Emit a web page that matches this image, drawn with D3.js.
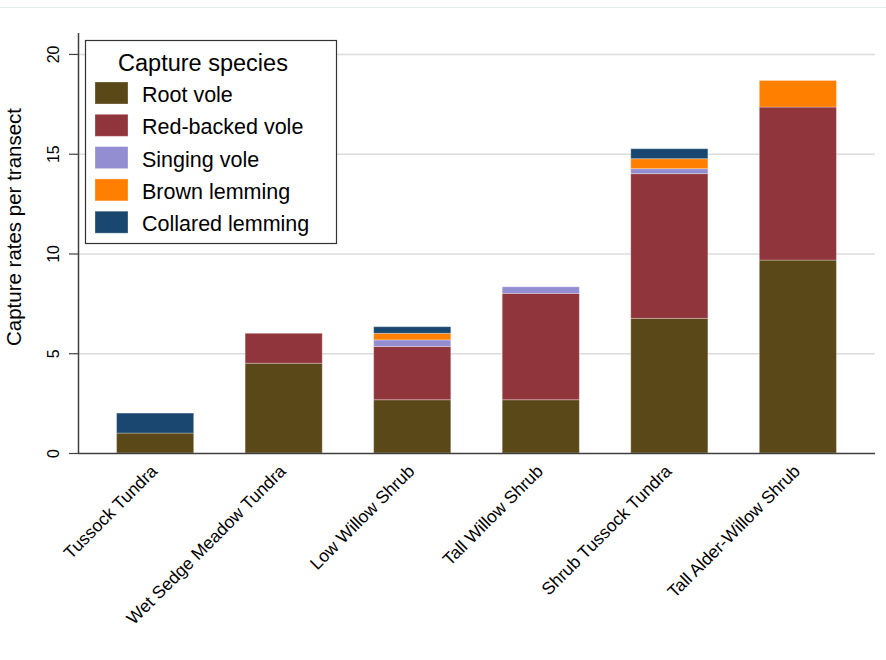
<!DOCTYPE html>
<html>
  <head>
    <meta charset="utf-8">
    <title>Capture rates per transect</title>
    <style>
      body { margin: 0; background: #fff; }
      text { font-family: "Liberation Sans", Arial, sans-serif; fill: #000; }
    </style>
  </head>
  <body>
    <svg width="886" height="660"></svg>

    <script src="https://cdnjs.cloudflare.com/ajax/libs/d3/7.8.5/d3.min.js"></script>
    <script>

      var habitats = ["Tussock Tundra", "Wet Sedge Meadow Tundra", "Low Willow Shrub",
        "Tall Willow Shrub", "Shrub Tussock Tundra", "Tall Alder-Willow Shrub"];

      var species = ["Root vole", "Red-backed vole", "Singing vole", "Brown lemming", "Collared lemming"];
      var speciesColors = ["#5b4819", "#90353b", "#938dd2", "#ff7f00", "#1a476f"];

      var rootVole = [1.0, 4.5, 2.67, 2.67, 6.75, 9.67];
      var redBackedVole = [0, 1.5, 2.67, 5.33, 7.25, 7.67];
      var singingVole = [0, 0, 0.33, 0.33, 0.25, 0];
      var brownLemming = [0, 0, 0.33, 0, 0.5, 1.33];
      var collaredLemming = [1.0, 0, 0.33, 0, 0.5, 0];

      var yTicks = [0, 5, 10, 15, 20];

      // table for d3.stack
      var values = [rootVole, redBackedVole, singingVole, brownLemming, collaredLemming];
      var data = habitats.map(function (h, i) {
        var row = { habitat: h };
        species.forEach(function (s, j) { row[s] = values[j][i]; });
        return row;
      });

      var series = d3.stack().keys(species)(data);

      var svg = d3.select("svg"),
        margin = { top: 33, right: 11, bottom: 207, left: 78 },
        width = +svg.attr("width"),
        height = +svg.attr("height");

      svg.append("rect").attr("width", width).attr("height", height).attr("fill", "#fff");

      // faint frame line at top
      svg.append("line")
        .attr("x1", 0).attr("x2", width)
        .attr("y1", 7.5).attr("y2", 7.5)
        .attr("stroke", "#e6eded");

      var x = d3.scaleBand()
        .domain(habitats)
        .range([margin.left, width - margin.right])
        .paddingInner(0.4)
        .paddingOuter(0.3);

      var y = d3.scaleLinear()
        .domain([0, 21.05])
        .range([height - margin.bottom, margin.top]);

      var z = d3.scaleOrdinal().domain(species).range(speciesColors);

      // gridlines
      svg.append("g")
        .selectAll("line")
        .data(yTicks.filter(function (d) { return d > 0; }))
        .enter().append("line")
        .attr("x1", margin.left)
        .attr("x2", width - margin.right)
        .attr("y1", function (d) { return y(d) + 0.5; })
        .attr("y2", function (d) { return y(d) + 0.5; })
        .attr("stroke", "#dcdcdc")
        .attr("stroke-width", 1.5);

      // bars
      svg.append("g")
        .selectAll("g")
        .data(series)
        .enter().append("g")
        .attr("fill", function (d) { return z(d.key); })
        .selectAll("rect")
        .data(function (d) { return d.filter(function (p) { return p[1] - p[0] > 0; }); })
        .enter().append("rect")
        .attr("x", function (d) { return x(d.data.habitat); })
        .attr("width", x.bandwidth())
        .attr("y", function (d) { return y(d[1]); })
        .attr("height", function (d) { return y(d[0]) - y(d[1]); })
        .attr("stroke", "#fff")
        .attr("stroke-opacity", 0.3)
        .attr("stroke-width", 1);

      // y axis
      var yAxis = svg.append("g")
        .attr("transform", "translate(" + margin.left + ",0)")
        .call(d3.axisLeft(y).tickValues(yTicks).tickSize(9).tickPadding(0).tickFormat(d3.format("d")));
      yAxis.select(".domain")
        .attr("d", "M0.5," + margin.top + "V" + y(0))
        .attr("stroke", "#404040")
        .attr("stroke-width", 1.5);
      yAxis.selectAll(".tick line").attr("stroke", "#404040").attr("stroke-width", 1.2);
      yAxis.selectAll(".tick text")
        .attr("font-size", 16)
        .attr("font-family", "Liberation Sans, Arial, sans-serif")
        .attr("fill", "#000")
        .attr("text-anchor", "middle")
        .attr("x", null).attr("dy", null)
        .attr("transform", "translate(-19,0) rotate(-90)");

      // x axis
      var xAxis = svg.append("g")
        .attr("transform", "translate(0," + y(0) + ")")
        .call(d3.axisBottom(x).tickSize(0).tickPadding(0));
      xAxis.select(".domain")
        .attr("d", "M" + margin.left + ",0.5H" + (width - margin.right))
        .attr("stroke", "#404040")
        .attr("stroke-width", 1.5);
      xAxis.selectAll(".tick text")
        .attr("font-size", 17.5)
        .attr("font-family", "Liberation Sans, Arial, sans-serif")
        .attr("fill", "#000")
        .attr("text-anchor", "end")
        .attr("y", null)
        .attr("dy", "0.35em")
        .attr("transform", "translate(-1,15) rotate(-45)");

      // y title
      svg.append("text")
        .attr("transform", "translate(21,227) rotate(-90)")
        .attr("text-anchor", "middle")
        .attr("font-size", 20.5)
        .text("Capture rates per transect");

      // legend
      var legend = svg.append("g");
      legend.append("rect")
        .attr("x", 85.5).attr("y", 40.5)
        .attr("width", 251).attr("height", 203)
        .attr("fill", "#fff")
        .attr("stroke", "#333")
        .attr("stroke-width", 1.2);
      legend.append("text")
        .attr("x", 203).attr("y", 71)
        .attr("text-anchor", "middle")
        .attr("font-size", 23.5)
        .text("Capture species");

      var item = legend.selectAll(".item")
        .data(species)
        .enter().append("g")
        .attr("class", "item")
        .attr("transform", function (d, i) { return "translate(0," + (82 + i * 32.3) + ")"; });
      item.append("rect")
        .attr("x", 95).attr("y", 0)
        .attr("width", 33).attr("height", 22)
        .attr("fill", function (d) { return z(d); })
        .attr("stroke", "#fff")
        .attr("stroke-opacity", 0.3);
      item.append("text")
        .attr("x", 142).attr("y", 20)
        .attr("font-size", 21.5)
        .text(function (d) { return d; });

    </script>
  </body>
</html>
